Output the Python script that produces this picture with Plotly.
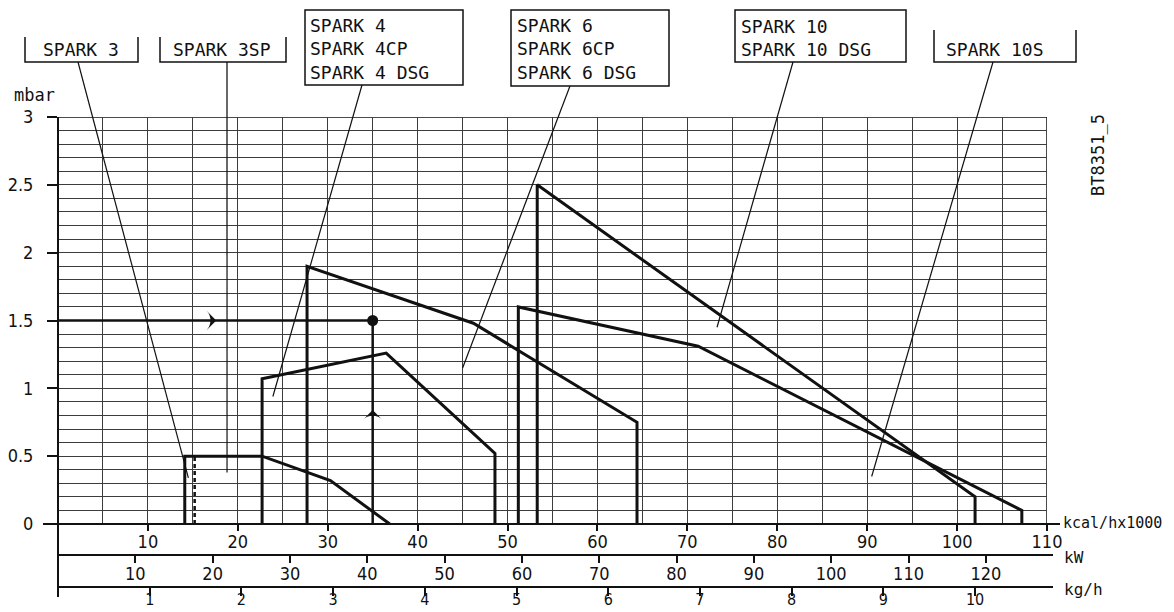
import plotly.graph_objects as go

# ---------------- data (kcal/h x1000 , mbar) ----------------
kcal_ticks = list(range(10, 111, 10))
kw_ticks = list(range(10, 121, 10))
kgh_ticks = list(range(1, 11))
mbar_ticks = [0, 0.5, 1, 1.5, 2, 2.5, 3]
mbar_ticktext = ["0", "0.5", "1", "1.5", "2", "2.5", "3"]
KCAL_PER_KW = 0.86      # 1 kW = 0.86 kcal/h x1000
KCAL_PER_KGH = 10.2     # 1 kg/h  = 10.2 kcal/h x1000

spark3_x = [14.1, 14.1, 22.7, 30.3, 36.9]
spark3_y = [0, 0.5, 0.5, 0.32, 0]
spark3sp_x = [15.2, 15.2]
spark3sp_y = [0, 0.5]
spark4_x = [22.7, 22.7, 36.5, 48.6, 48.6]
spark4_y = [0, 1.07, 1.26, 0.52, 0]
spark6_x = [27.7, 27.7, 46.2, 64.4, 64.4]
spark6_y = [0, 1.9, 1.48, 0.75, 0]
spark10_x = [51.2, 51.2, 71.2, 107.2, 107.2]
spark10_y = [0, 1.6, 1.31, 0.1, 0]
spark10s_x = [53.3, 53.3, 102.0, 102.0]
spark10s_y = [0, 2.5, 0.2, 0]

example_x = 35.0
example_y = 1.5
arrow_h_x = 17.6
arrow_v_y = 0.84

label_texts = [
    "SPARK 3",
    "SPARK 3SP",
    "SPARK 4<br>SPARK 4CP<br>SPARK 4 DSG",
    "SPARK 6<br>SPARK 6CP<br>SPARK 6 DSG",
    "SPARK 10<br>SPARK 10 DSG",
    "SPARK 10S",
]
label_target_x = [14.5, 18.8, 23.9, 45.0, 73.3, 90.5]
label_target_y = [0.34, 0.38, 0.94, 1.15, 1.45, 0.35]

# ---------------- layout geometry (reference pixels) ----------------
PAGE_OFF = 8                      # default body margin of the html page
W, H = 1174 - PAGE_OFF, 612 - PAGE_OFF
PL, PR, PT, PB = 58, 1047, 117, 590   # plot area in page pixels
Y_ZERO_PX = 524
Y0 = (PB - Y_ZERO_PX) / (PB - PT)


def px(xp):
    return (xp - PL) / (PR - PL)


def py(yp):
    return (PB - yp) / (PB - PT)


def dx(x):
    return x / 110.0


def dy(y):
    return Y0 + y / 3.0 * (1 - Y0)


# boxes: left, top, right, bottom, open_top
boxes = [
    (25, 37, 138, 62, True),
    (160, 37, 286, 62, True),
    (305, 10, 463, 85, False),
    (511, 10, 669, 86, False),
    (735, 10, 906, 62, False),
    (934, 30, 1076, 62, True),
]
# text anchor: x, y, xanchor
text_pos = [
    (81, 50, "center"),
    (222, 50, "center"),
    (308, 49, "left"),
    (515, 49, "left"),
    (739, 38, "left"),
    (995, 50, "center"),
]
leader_start = [(78, 62), (227, 62), (362, 85), (570, 86), (793, 62), (993, 62)]

BLACK = "#111111"
GRID = "#3c3c3c"
NARROW = "Liberation Sans Narrow, DejaVu Sans Condensed, Arial Narrow, sans-serif"
TICKFONT = dict(family=NARROW, size=18, color=BLACK)
TICKFONT_SMALL = dict(family=NARROW, size=16, color=BLACK)
MONO = "DejaVu Sans Mono, Liberation Mono, monospace"

fig = go.Figure()

curve_line = dict(color=BLACK, width=3)
for xs, ys in [(spark3_x, spark3_y), (spark4_x, spark4_y), (spark6_x, spark6_y),
               (spark10_x, spark10_y), (spark10s_x, spark10s_y)]:
    fig.add_trace(go.Scatter(x=xs, y=ys, mode="lines", line=curve_line,
                             showlegend=False, hoverinfo="skip"))
fig.add_trace(go.Scatter(x=spark3sp_x, y=spark3sp_y, mode="lines",
                         line=dict(color=BLACK, width=2.5, dash="4px,3px"),
                         showlegend=False, hoverinfo="skip"))

# reading example
fig.add_trace(go.Scatter(x=[0, example_x], y=[example_y, example_y], mode="lines",
                         line=dict(color=BLACK, width=2.5), showlegend=False, hoverinfo="skip"))
fig.add_trace(go.Scatter(x=[example_x, example_x], y=[0, example_y], mode="lines",
                         line=dict(color=BLACK, width=2.5), showlegend=False, hoverinfo="skip"))
fig.add_trace(go.Scatter(x=[example_x], y=[example_y], mode="markers",
                         marker=dict(color=BLACK, size=11), showlegend=False, hoverinfo="skip"))
fig.add_trace(go.Scatter(x=[arrow_h_x], y=[example_y], mode="markers",
                         marker=dict(color=BLACK, size=14, symbol="arrow-wide", angle=90),
                         showlegend=False, hoverinfo="skip"))
fig.add_trace(go.Scatter(x=[example_x], y=[arrow_v_y], mode="markers",
                         marker=dict(color=BLACK, size=14, symbol="arrow-wide", angle=0),
                         showlegend=False, hoverinfo="skip"))

# invisible traces to activate secondary scales
fig.add_trace(go.Scatter(x=kw_ticks, y=[0] * len(kw_ticks), xaxis="x2", yaxis="y",
                         mode="markers", marker=dict(opacity=0), showlegend=False, hoverinfo="skip"))
fig.add_trace(go.Scatter(x=kgh_ticks, y=[0] * len(kgh_ticks), xaxis="x3", yaxis="y",
                         mode="markers", marker=dict(opacity=0), showlegend=False, hoverinfo="skip"))

shapes = []
# grid frame top/right
shapes.append(dict(type="rect", xref="x", yref="y", x0=0, x1=110, y0=0, y1=3,
                   line=dict(color=BLACK, width=1.5), layer="below"))
# axis lines
shapes.append(dict(type="line", xref="paper", yref="paper", x0=px(43), x1=px(1060),
                   y0=py(Y_ZERO_PX), y1=py(Y_ZERO_PX), line=dict(color=BLACK, width=2)))
shapes.append(dict(type="line", xref="paper", yref="paper", x0=px(58), x1=px(1053),
                   y0=py(555), y1=py(555), line=dict(color=BLACK, width=2)))
shapes.append(dict(type="line", xref="paper", yref="paper", x0=px(58), x1=px(1053),
                   y0=py(587), y1=py(587), line=dict(color=BLACK, width=2)))
shapes.append(dict(type="line", xref="paper", yref="paper", x0=px(58), x1=px(58),
                   y0=py(117), y1=py(597), line=dict(color=BLACK, width=2)))

# label boxes
for (l, t, r, b, open_top) in boxes:
    if open_top:
        path = "M {0},{1} L {0},{2} L {3},{2} L {3},{1}".format(px(l), py(t), py(b), px(r))
    else:
        path = "M {0},{1} L {0},{2} L {3},{2} L {3},{1} Z".format(px(l), py(t), py(b), px(r))
    shapes.append(dict(type="path", xref="paper", yref="paper", path=path,
                       line=dict(color=BLACK, width=1.5)))

# leader lines
for (sx, sy), tx, ty in zip(leader_start, label_target_x, label_target_y):
    shapes.append(dict(type="line", xref="paper", yref="paper",
                       x0=px(sx), y0=py(sy), x1=dx(tx), y1=dy(ty),
                       line=dict(color=BLACK, width=1.2)))

annotations = []
for txt, (tx, ty, anc) in zip(label_texts, text_pos):
    annotations.append(dict(text=txt, xref="paper", yref="paper", x=px(tx), y=py(ty),
                            xanchor=anc, yanchor="middle", align="left", showarrow=False,
                            font=dict(family=MONO, size=18, color=BLACK)))

unit_labels = [("mbar", 12, 95, 17), ("kcal/hx1000", 1061, 523, 15),
               ("kW", 1062, 557, 16), ("kg/h", 1062, 589, 16)]
for txt, ux, uy, s in unit_labels:
    annotations.append(dict(text=txt, xref="paper", yref="paper", x=px(ux), y=py(uy),
                            xanchor="left", yanchor="middle", showarrow=False,
                            font=dict(family=MONO, size=s, color=BLACK)))
annotations.append(dict(text="BT8351_5", xref="paper", yref="paper", x=px(1098), y=py(155),
                        xanchor="center", yanchor="middle", textangle=-90, showarrow=False,
                        font=dict(family=MONO, size=17, color=BLACK)))

fig.update_layout(
    width=W, height=H,
    margin=dict(l=PL - PAGE_OFF, r=W - (PR - PAGE_OFF), t=PT - PAGE_OFF,
                b=H - (PB - PAGE_OFF), pad=0, autoexpand=False),
    paper_bgcolor="white", plot_bgcolor="white",
    showlegend=False,
    shapes=shapes,
    annotations=annotations,
    xaxis=dict(range=[0, 110], domain=[0, 1], anchor="y", automargin=False,
               tickvals=kcal_ticks, ticktext=[str(v) for v in kcal_ticks],
               ticks="outside", ticklen=6, tickwidth=2, tickcolor=BLACK,
               tickfont=TICKFONT, ticklabelstandoff=-5,
               showgrid=True, gridcolor=GRID, gridwidth=1,
               minor=dict(dtick=5, tick0=0, showgrid=True, gridcolor=GRID, gridwidth=1, ticks=""),
               showline=False, zeroline=False, fixedrange=True),
    xaxis2=dict(range=[0, 110 / KCAL_PER_KW], overlaying="x", anchor="free", automargin=False,
                position=py(555), side="bottom",
                tickvals=kw_ticks, ticktext=[str(v) for v in kw_ticks],
                ticks="outside", ticklen=7, tickwidth=2, tickcolor=BLACK,
                tickfont=TICKFONT, ticklabelstandoff=-5,
                showgrid=False, showline=False, zeroline=False, fixedrange=True),
    xaxis3=dict(range=[0, 110 / KCAL_PER_KGH], overlaying="x", anchor="free", automargin=False,
                position=py(587), side="bottom",
                tickvals=kgh_ticks, ticktext=[str(v) for v in kgh_ticks],
                ticks="outside", ticklen=8, tickwidth=2, tickcolor=BLACK,
                tickfont=TICKFONT_SMALL, ticklabelstandoff=-10,
                showgrid=False, showline=False, zeroline=False, fixedrange=True),
    yaxis=dict(range=[0, 3], domain=[Y0, 1], anchor="x", automargin=False,
               tickvals=mbar_ticks, ticktext=mbar_ticktext,
               ticks="outside", ticklen=10, tickwidth=2, tickcolor=BLACK,
               tickfont=TICKFONT, ticklabelstandoff=10,
               showgrid=True, gridcolor=GRID, gridwidth=1,
               minor=dict(dtick=0.1, tick0=0, showgrid=True, gridcolor=GRID, gridwidth=1, ticks=""),
               showline=False, zeroline=False, fixedrange=True),
)

fig.write_html("out.html")
